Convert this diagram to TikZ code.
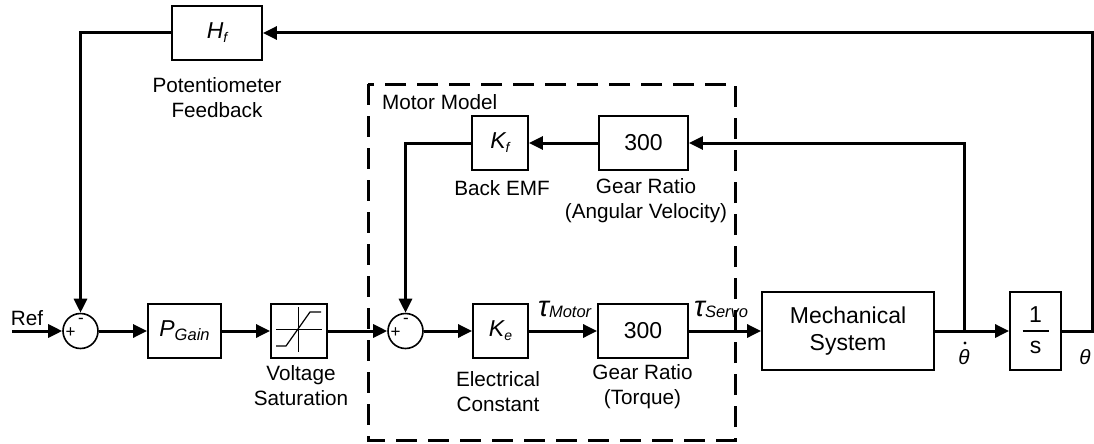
\documentclass[tikz,border=0pt]{standalone}
\usepackage{fontspec}
\setmainfont{Liberation Sans}
\usetikzlibrary{arrows.meta}
\newcommand\labfont{\fontsize{20.7}{25}\selectfont}
\newcommand\boxfont{\fontsize{23}{27}\selectfont}
\newcommand\subfont{\fontsize{14}{14}\selectfont}
\newcommand\tausub{\fontsize{16.5}{16.5}\selectfont}
\newcommand\sgnfont{\fontsize{17}{17}\selectfont}
\begin{document}
\begin{tikzpicture}[x=1pt,y=-1pt,
  blk/.style={draw, line width=1.8pt, inner sep=0pt, font=\boxfont},
  sumj/.style={draw, circle, line width=1.6pt, minimum size=35pt, inner sep=0pt},
  sig/.style={line width=3pt, -{Triangle[length=14pt,width=13pt]}},
  lab/.style={font=\labfont, align=center, inner sep=0pt},
  sgn/.style={font=\sgnfont, inner sep=0pt}]
\useasboundingbox (0,0) rectangle (1094,444);

% dashed motor model
\draw[line width=3pt, dash pattern=on 21pt off 11pt] (368,84) rectangle (735,440);
\node[lab, anchor=west] (mm) at (382,102) {Motor Model};

% blocks
\node[blk, minimum width=90pt, minimum height=54pt] (hf) at (217,33) {\itshape H\raisebox{-4pt}{\subfont f}};
\node[sumj] (s1) at (80.5,331) {};
\node[blk, minimum width=73pt, minimum height=54pt] (pg) at (184.5,331) {\itshape P\raisebox{-4pt}{\tausub Gain}};
\node[blk, minimum width=56pt, minimum height=54pt] (sat) at (299,331) {};
\node[sumj] (s2) at (405.5,331) {};
\node[blk, minimum width=55pt, minimum height=54pt] (ke) at (500.5,331) {\itshape K\raisebox{-4pt}{\subfont e}};
\node[blk, minimum width=90pt, minimum height=54pt] (g2) at (643,331) {300};
\node[blk, minimum width=172pt, minimum height=78pt, align=center] (mech) at (848,331) {Mechanical\\System};
\node[blk, minimum width=51pt, minimum height=78pt] (integ) at (1035.5,331) {};
\node[blk, minimum width=56pt, minimum height=54pt] (kf) at (500,143) {\itshape K\raisebox{-4pt}{\subfont f}};
\node[blk, minimum width=89pt, minimum height=54pt] (g1) at (643.5,143) {300};

% 1/s
\node[font=\boxfont, inner sep=0pt] (one) at ([yshift=16pt]integ.center) {1};
\node[font=\boxfont, inner sep=0pt] (ess) at ([yshift=-16pt]integ.center) {s};
\draw[line width=1.2pt] ([xshift=-13pt]integ.center) -- ([xshift=13pt]integ.center);

% saturation icon
\draw[line width=1pt] ([shift={(-1,-24)}]sat.center) -- ([shift={(-1,21)}]sat.center);
\draw[line width=1pt] ([shift={(-23,-2)}]sat.center) -- ([shift={(23,-2)}]sat.center);
\draw[line width=1.2pt] ([shift={(-23,15)}]sat.center) -- ([shift={(-13,15)}]sat.center) -- ([shift={(11,-19)}]sat.center) -- ([shift={(22,-19)}]sat.center);

% sum signs
\node[sgn] (p1) at (70.5,333) {+};
\node[sgn] (m1) at (81,321) {-};
\node[sgn] (p2) at (395.5,333) {+};
\node[sgn] (m2) at (406,321) {-};

% coordinates
\coordinate (ref) at (12,331);
\coordinate (br) at (964,331);
\coordinate (rt) at (1092,331);
\coordinate (rtt) at (1092,33);
\coordinate (lt) at (80.5,33);
\coordinate (brt) at (964,143);
\coordinate (kfl) at (405.5,143);

% signals
\draw[sig] (ref) -- (s1.west);
\draw[sig] (s1.east) -- (pg.west);
\draw[sig] (pg.east) -- (sat.west);
\draw[sig] (sat.east) -- (s2.west);
\draw[sig] (s2.east) -- (ke.west);
\draw[sig] (ke.east) -- (g2.west);
\draw[sig] (g2.east) -- (mech.west);
\draw[sig] (mech.east) -- (integ.west);
\draw[sig] (integ.east) -- (rt) -- (rtt) -- (hf.east);
\draw[sig] (hf.west) -- (lt) -- (s1.north);
\draw[sig] (br) -- (brt) -- (g1.east);
\draw[sig] (g1.west) -- (kf.east);
\draw[sig] (kf.west) -- (kfl) -- (s2.north);

% labels
\node[lab] (reflab) at (27,318) {Ref};
\node[lab] (potlab) at (217,98) {Potentiometer\\Feedback};
\node[lab] (satlab) at (301,386) {Voltage\\Saturation};
\node[lab] (emflab) at (502,188) {Back EMF};
\node[lab] (g1lab) at (646,201) {Gear Ratio\\(Angular Velocity)};
\node[lab] (kelab) at (498,392) {Electrical\\Constant};
\node[lab] (g2lab) at (642.5,387) {Gear Ratio\\(Torque)};
\node[inner sep=0pt, anchor=base west] (taum) at (538,316) {\fontsize{29}{29}\selectfont\itshape τ\raisebox{-1pt}{\tausub Motor}};
\node[inner sep=0pt, anchor=base west] (taus) at (694,316) {\fontsize{29}{29}\selectfont\itshape τ\raisebox{-1pt}{\tausub Servo}};
\node[lab, font=\labfont\itshape] (thd) at (964,357) {θ};
\fill (965,343) circle (1.6pt);
\node[lab, font=\labfont\itshape] (th) at (1085,357) {θ};
\end{tikzpicture}
\end{document}
